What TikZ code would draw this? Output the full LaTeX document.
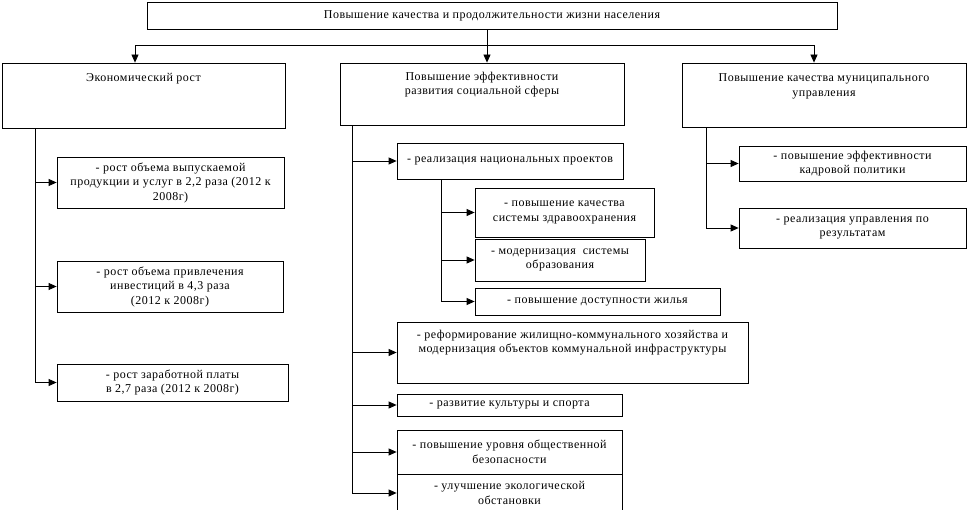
\documentclass[tikz,border=0pt]{standalone}
\usepackage{fontspec}
\setmainfont[LetterSpace=4]{Liberation Serif}
\usetikzlibrary{positioning}
\usetikzlibrary{arrows.meta}
\newcommand{\fs}{\fontsize{12}{14.5}\selectfont}
\tikzset{
  blk/.style={draw, line width=0.8pt, inner sep=0pt, align=center, font=\fs},
  ttl/.style={inner sep=0pt, align=center, font=\fs},
  ln/.style={line width=0.8pt},
  arr/.style={line width=0.8pt, -{Triangle[length=8pt,width=7pt]}}
}

\begin{document}
\begin{tikzpicture}[x=1pt,y=-1pt]
  \useasboundingbox (0,0) rectangle (968,510);
  % top level
  \node[blk, minimum width=690, minimum height=27] (top) at (492,15.5)
    {Повышение качества и продолжительности жизни населения};
  \node[blk, minimum width=283, minimum height=65] (econ) at (143.5,95.5) {};
  \node[blk, minimum width=284, minimum height=62] (soc) at (482,94) {};
  \node[blk, minimum width=284, minimum height=64] (mun) at (824,95) {};
  \node[ttl, below=10pt of econ.north] (econt) {Экономический рост};
  \node[ttl, below=9pt of soc.north] (soct) {Повышение эффективности\\развития социальной сферы};
  \node[ttl, below=11pt of mun.north] (munt) {Повышение качества муниципального\\управления};
  % left column
  \node[blk, minimum width=227, minimum height=51] (l1) at (170.5,182.5)
    {- рост объема выпускаемой\\продукции и услуг в 2,2 раза (2012 к\\2008г)};
  \node[blk, minimum width=226, minimum height=51] (l2) at (170,286.5)
    {- рост объема привлечения\\инвестиций в 4,3 раза\\(2012 к 2008г)};
  \node[blk, minimum width=231, minimum height=37] (l3) at (172.5,382.5)
    {- рост заработной платы\\в 2,7 раза (2012 к 2008г)};
  % middle column
  \node[blk, minimum width=226, minimum height=36] (m1) at (510,161)
    {- реализация национальных проектов};
  \node[blk, minimum width=179, minimum height=49] (s1) at (564.5,212.5)
    {- повышение качества\\системы здравоохранения};
  \node[blk, minimum width=170, minimum height=42] (s2) at (560,260)
    {- модернизация\ \ системы\\образования};
  \node[blk, minimum width=245, minimum height=27] (s3) at (597.5,301.5)
    {- повышение доступности жилья};
  \node[blk, minimum width=351, minimum height=61] (m2) at (572.5,352.5) {};
  \node[ttl, below=8pt of m2.north] (m2t)
    {- реформирование жилищно-коммунального хозяйства и\\модернизация объектов коммунальной инфраструктуры};
  \node[blk, minimum width=225, minimum height=22] (m3) at (509.5,405)
    {- развитие культуры и спорта};
  \node[blk, minimum width=225, minimum height=44] (m4) at (509.5,452)
    {- повышение уровня общественной\\безопасности};
  \node[blk, minimum width=225, minimum height=38] (m5) at (509.5,493)
    {- улучшение экологической\\обстановки};
  % right column
  \node[blk, minimum width=227, minimum height=35] (r1) at (852.5,163.5)
    {- повышение эффективности\\кадровой политики};
  \node[blk, minimum width=227, minimum height=40] (r2) at (852.5,228)
    {- реализация управления по\\результатам};

  % connectors
  \coordinate (bus) at (487,45);
  \draw[ln] (top.south -| bus) -- (bus);
  \draw[arr] (bus) -| ([xshift=-8.5]econ.north);
  \draw[arr] (bus) -- (bus |- soc.north);
  \draw[arr] (bus) -| ([xshift=-10]mun.north);

  \coordinate (lsp) at (35,0);
  \draw[ln] (econ.south -| lsp) -- (lsp |- l3.west);
  \foreach \b in {l1,l2,l3}
    \draw[arr] (lsp |- \b.west) -- (\b.west);

  \coordinate (msp) at (352,0);
  \draw[ln] (soc.south -| msp) -- (msp |- m5.west);
  \foreach \b in {m1,m2,m3,m4,m5}
    \draw[arr] (msp |- \b.west) -- (\b.west);

  \coordinate (ssp) at (441,0);
  \draw[ln] (m1.south -| ssp) -- (ssp |- s3.west);
  \foreach \b in {s1,s2,s3}
    \draw[arr] (ssp |- \b.west) -- (\b.west);

  \coordinate (rsp) at (706,0);
  \draw[ln] (mun.south -| rsp) -- (rsp |- r2.west);
  \foreach \b in {r1,r2}
    \draw[arr] (rsp |- \b.west) -- (\b.west);
\end{tikzpicture}
\end{document}
